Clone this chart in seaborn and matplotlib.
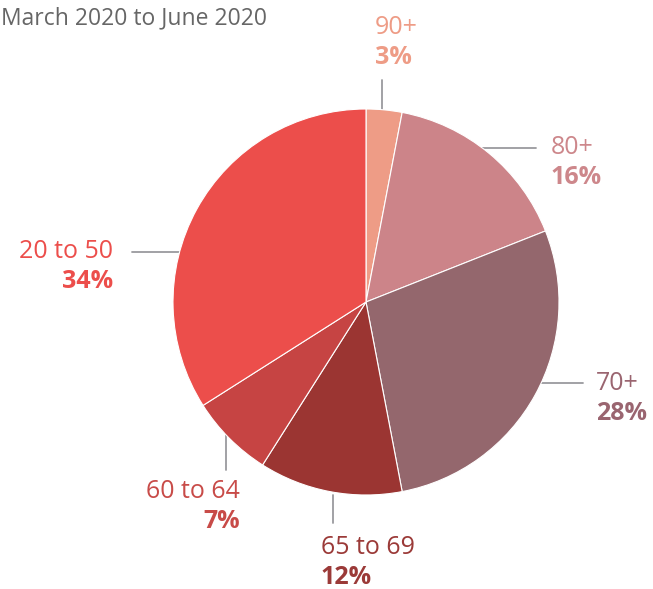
import matplotlib
matplotlib.use("Agg")
import matplotlib.pyplot as plt
import seaborn as sns

sns.set_style("white")
plt.rcParams['font.family'] = ['Open Sans', 'DejaVu Sans']

title = "March 2020 to June 2020"
categories = ["90+", "80+", "70+", "65 to 69", "60 to 64", "20 to 50"]
values = [3, 16, 28, 12, 7, 34]
slice_colors = ["#EE9C86", "#CC8489", "#94676D", "#9B3532", "#C64443", "#EC4E4B"]
text_colors = ["#EE9C86", "#CD878B", "#9A6570", "#9B3A38", "#C84B48", "#EC4E4B"]

W, H = 653, 589
fig = plt.figure(figsize=(W / 100, H / 100), dpi=100)
ax = fig.add_axes([0, 0, 1, 1])
ax.set_xlim(0, W)
ax.set_ylim(0, H)
ax.set_aspect("equal")
ax.axis("off")

def Y(y):
    return H - y

cx, cy, r = 366, 302, 193
ax.pie(values, colors=slice_colors, startangle=90, counterclock=False,
       center=(cx, Y(cy)), radius=r,
       wedgeprops=dict(edgecolor="white", linewidth=0.8))
ax.set_xlim(0, W)
ax.set_ylim(0, H)

ax.text(1, Y(18), title, fontsize=16.5, color="#666666", ha="left", va="center")

line_c = "#9a9a9e"
# leader lines (x0, y0, x1, y1) in pixel coords
leaders = {
    "90+": (382, 110, 382, 80),
    "80+": (480, 148, 536, 148),
    "70+": (540, 383, 583, 383),
    "65 to 69": (333, 495, 333, 523),
    "60 to 64": (226, 433, 226, 470),
    "20 to 50": (132, 252, 180, 252),
}
# label anchors (x, y of first line, ha)
anchors = {
    "90+": (375, 27, "left"),
    "80+": (551, 148, "left"),
    "70+": (596, 384, "left"),
    "65 to 69": (321, 547, "left"),
    "60 to 64": (240, 492, "right"),
    "20 to 50": (113, 252, "right"),
}
for cat, val, tc in zip(categories, values, text_colors):
    x0, y0, x1, y1 = leaders[cat]
    ax.plot([x0, x1], [Y(y0), Y(y1)], color=line_c, lw=1.3, zorder=0)
    ax_, ay, ha = anchors[cat]
    ax.text(ax_, Y(ay), cat, fontsize=18, color=tc, ha=ha, va="center")
    ax.text(ax_, Y(ay + 30), f"{val}%", fontsize=18, color=tc, ha=ha,
            va="center", fontweight="bold")

fig.savefig("out.png", dpi=100)
